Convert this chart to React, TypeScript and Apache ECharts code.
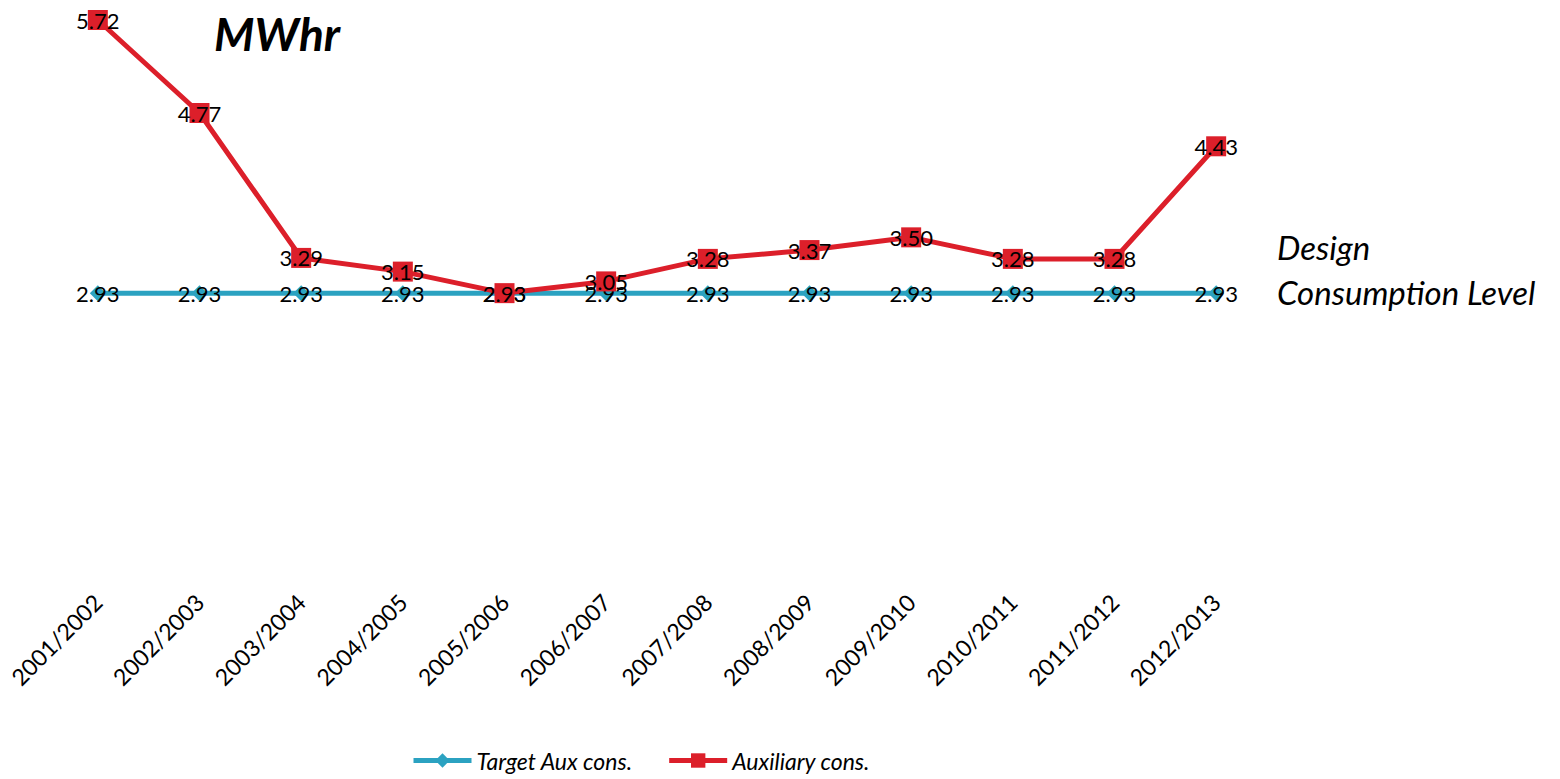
import React, { useEffect, useRef } from "react";
import * as echarts from "echarts";

const categories = [
  "2001/2002", "2002/2003", "2003/2004", "2004/2005", "2005/2006", "2006/2007",
  "2007/2008", "2008/2009", "2009/2010", "2010/2011", "2011/2012", "2012/2013",
];
const targetAux = [2.93, 2.93, 2.93, 2.93, 2.93, 2.93, 2.93, 2.93, 2.93, 2.93, 2.93, 2.93];
const auxiliary = [5.72, 4.77, 3.29, 3.15, 2.93, 3.05, 3.28, 3.37, 3.5, 3.28, 3.28, 4.43];

const FONT = "Lato, 'Open Sans', sans-serif";
const BLUE = "#2BA2C1";
const RED = "#DC1F2A";

export default function App() {
  const ref = useRef<HTMLDivElement>(null);
  useEffect(() => {
    if (!ref.current) return;
    const chart = echarts.init(ref.current, null, { renderer: "svg" });
    const label = {
      show: true,
      position: "inside" as const,
      color: "#000",
      fontSize: 22,
      fontFamily: FONT,
      formatter: (p: any) => Number(p.value).toFixed(2),
    };
    chart.setOption({
      animation: false,
      backgroundColor: "#fff",
      textStyle: { fontFamily: FONT },
      grid: { left: 47, right: 293, top: 20, height: 560 },
      xAxis: {
        type: "category",
        data: categories,
        boundaryGap: true,
        axisLine: { show: false },
        axisTick: { show: false },
        axisLabel: { rotate: 45, fontSize: 23, color: "#000", margin: 18, fontFamily: FONT },
      },
      yAxis: {
        type: "value",
        min: 0,
        max: 5.72,
        show: false,
        splitLine: { show: false },
      },
      legend: {
        bottom: 2,
        left: 406,
        itemWidth: 58,
        itemHeight: 18,
        itemGap: 34,
        lineStyle: { width: 5 },
        textStyle: { fontSize: 23, fontStyle: "italic", color: "#000", fontFamily: FONT },
        data: ["Target Aux cons.", "Auxiliary cons."],
      },
      graphic: [
        {
          type: "text",
          left: 214,
          top: 10,
          style: { text: "MWhr", fontSize: 46, fontWeight: "bold", fontStyle: "italic", fill: "#000", fontFamily: FONT },
        },
        {
          type: "text",
          left: 1277,
          top: 230,
          style: { text: "Design", fontSize: 33, fontStyle: "italic", fill: "#000", fontFamily: FONT },
        },
        {
          type: "text",
          left: 1277,
          top: 275,
          style: { text: "Consumption Level", fontSize: 33, fontStyle: "italic", fill: "#000", fontFamily: FONT },
        },
      ],
      series: [
        {
          name: "Target Aux cons.",
          type: "line",
          data: targetAux,
          symbol: "diamond",
          symbolSize: 16,
          itemStyle: { color: BLUE },
          lineStyle: { color: BLUE, width: 5 },
          label,
          z: 2,
        },
        {
          name: "Auxiliary cons.",
          type: "line",
          data: auxiliary,
          symbol: "rect",
          symbolSize: 20,
          itemStyle: { color: RED },
          lineStyle: { color: RED, width: 5 },
          label,
          z: 3,
        },
      ],
    });
    return () => chart.dispose();
  }, []);
  return <div ref={ref} style={{ position: "fixed", left: 0, top: 0, width: 1560, height: 779 }} />;
}
